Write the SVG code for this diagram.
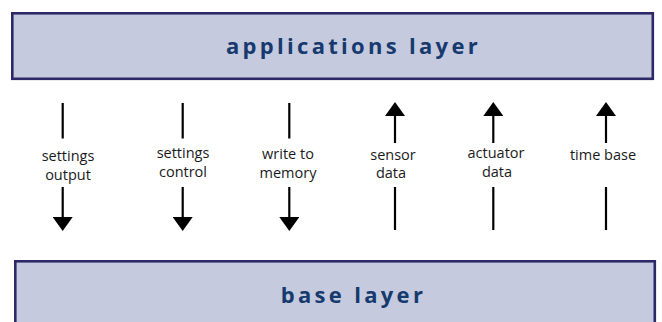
<svg xmlns="http://www.w3.org/2000/svg" width="662" height="322" viewBox="0 0 662 322">
<style>
.layer{fill:#c5cadf;stroke:#2e2868;stroke-width:2.6}
.title{font-family:"Open Sans","Liberation Sans",sans-serif;font-weight:bold;font-size:22px;letter-spacing:3.3px;fill:#173a6e;text-anchor:middle}
.lbl{font-family:"Open Sans","Liberation Sans",sans-serif;font-size:14.5px;fill:#1a1a1a;text-anchor:middle}
.ln{stroke:#000;stroke-width:2.2;fill:none}
</style>
<defs>
<marker id="ah" viewBox="0 0 14 20" refX="0" refY="10" markerWidth="14" markerHeight="20" markerUnits="userSpaceOnUse" orient="auto">
<path d="M0,0 L14,10 L0,20 Z" fill="#000"/>
</marker>
</defs>
<g id="applications-layer">
<rect class="layer" x="12.3" y="13.3" width="640.5" height="65.5"/>
<text class="title" x="353.5" y="54">applications layer</text>
</g>
<g id="base-layer">
<rect class="layer" x="15.3" y="261.3" width="639.5" height="80"/>
<text class="title" x="353.5" y="302.5">base layer</text>
</g>
<g id="connectors">
<line class="ln" x1="62.7" y1="103" x2="62.7" y2="138.5"/>
<line class="ln" x1="62.7" y1="187" x2="62.7" y2="217" marker-end="url(#ah)"/>
<line class="ln" x1="182.7" y1="103" x2="182.7" y2="138.5"/>
<line class="ln" x1="182.7" y1="187" x2="182.7" y2="217" marker-end="url(#ah)"/>
<line class="ln" x1="289.3" y1="103" x2="289.3" y2="138.5"/>
<line class="ln" x1="289.3" y1="187" x2="289.3" y2="217" marker-end="url(#ah)"/>
<line class="ln" x1="395" y1="230" x2="395" y2="187"/>
<line class="ln" x1="395" y1="143" x2="395" y2="116" marker-end="url(#ah)"/>
<line class="ln" x1="493.3" y1="230" x2="493.3" y2="187"/>
<line class="ln" x1="493.3" y1="143" x2="493.3" y2="116" marker-end="url(#ah)"/>
<line class="ln" x1="606" y1="230" x2="606" y2="187"/>
<line class="ln" x1="606" y1="143" x2="606" y2="116" marker-end="url(#ah)"/>
</g>
<g id="labels">
<text class="lbl" x="68"><tspan x="68" y="161">settings</tspan><tspan x="68" y="180">output</tspan></text>
<text class="lbl" x="183"><tspan x="183" y="158">settings</tspan><tspan x="183" y="177">control</tspan></text>
<text class="lbl" x="288"><tspan x="288" y="159">write to</tspan><tspan x="288" y="178">memory</tspan></text>
<text class="lbl" x="392"><tspan x="393" y="160">sensor</tspan><tspan x="391" y="178">data</tspan></text>
<text class="lbl" x="496"><tspan x="496" y="158">actuator</tspan><tspan x="497" y="177">data</tspan></text>
<text class="lbl" x="603" y="160">time base</text>
</g>
</svg>
